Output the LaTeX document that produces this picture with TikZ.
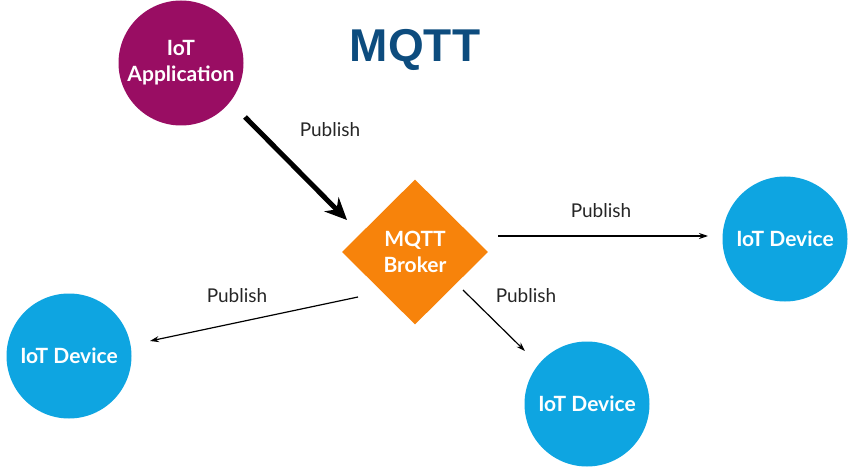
\documentclass[tikz,border=0pt]{standalone}
\usepackage{fontspec}
\setmainfont{Lato}
\newfontfamily\titlefont{Liberation Sans}
\usetikzlibrary{shapes.geometric,arrows.meta}
\definecolor{appcol}{HTML}{990D63}
\definecolor{devcol}{HTML}{0EA5E1}
\definecolor{brokercol}{HTML}{F7830B}
\definecolor{titlecol}{HTML}{0D4C7E}
\begin{document}
\begin{tikzpicture}[x=1pt,y=-1pt,
  circnode/.style={circle,minimum size=125pt,inner sep=0pt,text=white,font=\fontsize{21}{26}\selectfont\bfseries,align=center},
  lbl/.style={font=\fontsize{19}{21}\selectfont,text=black!85},
  thin arrow/.style={-{Stealth[length=9pt,width=6pt]},line width=1.2pt},
  thick arrow/.style={-{Stealth[length=22pt,width=20pt]},line width=5pt}]
\useasboundingbox (0,0) rectangle (855,468);
\node[circnode,fill=appcol] (app) at (181,63) {IoT\\Application};
\node[font=\titlefont\fontsize{46}{50}\selectfont\bfseries,text=titlecol] (title) at (415,50) {MQTT};
\node[diamond,fill=brokercol,minimum width=146pt,minimum height=145pt,inner sep=0pt,text=white,font=\fontsize{21}{26}\selectfont\bfseries,align=center] (broker) at (415,252) {MQTT\\Broker};
\node[circnode,fill=devcol] (devR) at (785,239) {IoT Device};
\node[circnode,fill=devcol] (devL) at (69,356) {IoT Device};
\node[circnode,fill=devcol] (devB) at (587,404) {IoT Device};
\coordinate (a1s) at (245,117);
\coordinate (a1e) at (347,220);
\coordinate (a2s) at (498,236);
\coordinate (a2e) at (708,236);
\coordinate (a3s) at (358,297);
\coordinate (a3e) at (150,341);
\coordinate (a4s) at (463,290);
\coordinate (a4e) at (525,351);
\draw[thick arrow] (a1s) -- (a1e);
\draw[thin arrow] (a2s) -- (a2e);
\draw[thin arrow] (a3s) -- (a3e);
\draw[thin arrow] (a4s) -- (a4e);
\node[lbl] (l1) at (330,130) {Publish};
\node[lbl] (l2) at (601,211) {Publish};
\node[lbl] (l3) at (237,296) {Publish};
\node[lbl] (l4) at (526,296) {Publish};
\end{tikzpicture}
\end{document}
